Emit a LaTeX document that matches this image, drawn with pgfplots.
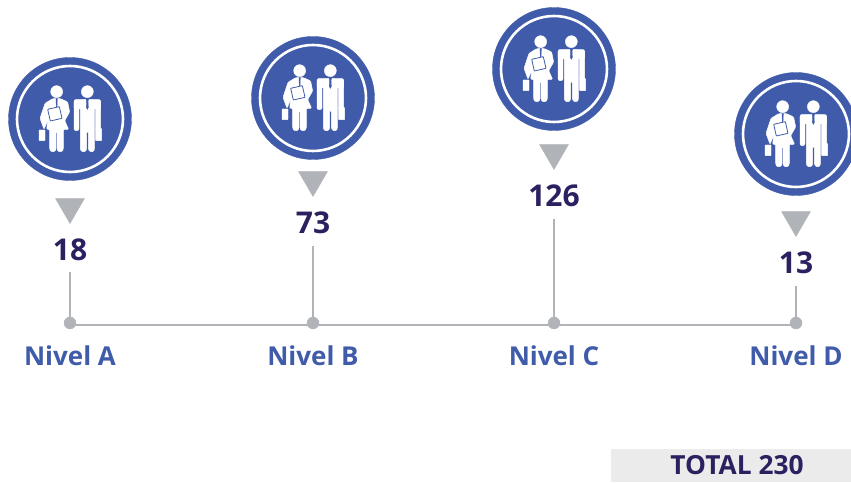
\documentclass[border=0pt]{standalone}
\usepackage{pgfplots}
\pgfplotsset{compat=1.18}
\usepackage{pgfplotstable}
\usepackage{fontspec}
\setmainfont{Open Sans}

\definecolor{azul}{HTML}{3F5BA9}
\definecolor{gris}{HTML}{B0B3B8}
\definecolor{morado}{HTML}{2B2060}
\definecolor{caja}{HTML}{ECEBEB}

% heights are in reference pixels above the baseline
\pgfplotstableread{
x     value stem icon tri num
70    18    51   204  112 73
313   73    77   225  139 100
554   126   104  254  166 127
796   13    37   189  99  60
}\niveles

\pgfplotstableread[col sep=comma]{
x,y,name
70,-33,Nivel A
313,-33,Nivel B
554,-33,Nivel C
796,-33,Nivel D
}\nombres

% person icon around the disc centre
% (everything in pt: unitless coordinates would be axis coordinates here)
\pgfdeclareplotmark{gente}{%
  \fill[azul] (0pt,0pt) circle (61.5pt);
  \draw[white,line width=2.6pt] (0pt,0pt) circle (53pt);
  % woman
  \fill[white] (-13.33pt,27.33pt) circle (6pt);
  \fill[white,rounded corners=1pt] (-17.33pt,20.33pt) -- (-9.33pt,20.33pt) -- (-2.33pt,17pt)
    -- (-0.33pt,7pt) -- (-5.33pt,-1.67pt) -- (-1.33pt,-10.33pt) -- (-6.67pt,-10.33pt)
    -- (-6.67pt,-30.33pt) -- (-8pt,-32.67pt) -- (-11.67pt,-32.67pt) -- (-13pt,-30.33pt)
    -- (-13pt,-12.67pt) -- (-14pt,-12.67pt) -- (-14pt,-30.33pt) -- (-15.33pt,-32.67pt)
    -- (-19pt,-32.67pt) -- (-20.33pt,-30.33pt) -- (-20.33pt,-10.33pt) -- (-23.33pt,-10.33pt)
    -- (-22.33pt,-1.67pt) -- (-26pt,-10.33pt) -- (-30pt,0.67pt) -- (-25pt,15.67pt) -- cycle;
  \fill[white,rounded corners=0.5pt] (-31pt,-11pt) rectangle (-25pt,-21.67pt);
  \fill[azul] (-14pt,20.33pt) -- (-12.67pt,20.33pt) -- (-13pt,12.33pt) -- (-13.67pt,12.33pt) -- cycle;
  \draw[azul,line width=0.8pt,fill=white,rounded corners=0.5pt]
    (-22.33pt,9.67pt) -- (-10.67pt,12.33pt) -- (-8pt,0.67pt) -- (-19.67pt,-2pt) -- cycle;
  % man
  \fill[white] (17.33pt,27.33pt) circle (6pt);
  \fill[white,rounded corners=1pt] (10.3pt,19pt) -- (24.4pt,19pt) -- (24.4pt,-30.33pt)
    -- (23.4pt,-32.67pt) -- (20pt,-32.67pt) -- (18.33pt,-30.33pt) -- (18.33pt,-12.67pt)
    -- (16.67pt,-12.67pt) -- (16.67pt,-30.33pt) -- (15.33pt,-32.67pt) -- (11.67pt,-32.67pt)
    -- (10.3pt,-30.33pt) -- cycle;
  \fill[white,rounded corners=2pt] (4pt,19.5pt) rectangle (30.67pt,10pt);
  \fill[white,rounded corners=2pt] (4pt,18.33pt) rectangle (9pt,-11.67pt);
  \fill[white,rounded corners=2pt] (25.6pt,18.33pt) rectangle (30.67pt,-11.67pt);
  \fill[white,rounded corners=0.5pt] (25.6pt,-9.67pt) rectangle (31.67pt,-21.67pt);
  \fill[azul] (16pt,20.33pt) -- (18.67pt,20.33pt) -- (18pt,17.67pt) -- (18.33pt,11.67pt)
    -- (17.33pt,9.67pt) -- (16.33pt,11.67pt) -- (16.67pt,17.67pt) -- cycle;
}
\pgfdeclareplotmark{flecha}{%
  \fill[gris] (-14.5pt,12.5pt) -- (14.5pt,12.5pt) -- (0pt,-12.5pt) -- cycle;
}

\begin{document}
\begin{tikzpicture}
\begin{axis}[
    name=ax,
    at={(0,0)}, anchor=south west,
    scale only axis,
    width=851pt, height=484pt,
    xmin=0, xmax=851,
    ymin=-161, ymax=323,
    hide axis,
    clip=true,
  ]
  % baseline and stems
  \addplot[gris, line width=2pt, mark=none] coordinates {(70,-2) (796,-2)};
  \addplot[gris, line width=2pt, ycomb, mark=none] table[x=x, y=stem] {\niveles};
  \addplot[only marks, mark=*, mark size=6pt, mark options={fill=gris, draw=gris}]
    table[x=x, y expr=0] {\niveles};
  % icons and arrows
  \addplot[only marks, mark=gente] table[x=x, y=icon] {\niveles};
  \addplot[only marks, mark=flecha] table[x=x, y=tri] {\niveles};
  % values
  \addplot[only marks, mark=none, point meta=explicit symbolic,
      nodes near coords, every node near coord/.append style={
        anchor=center, inner sep=0pt, text=morado,
        font=\fontsize{30}{30}\selectfont\bfseries}]
    table[x=x, y=num, meta=value] {\niveles};
  % level names
  \addplot[only marks, mark=none, point meta=explicit symbolic,
      nodes near coords, every node near coord/.append style={
        anchor=center, inner sep=0pt, text=azul,
        font=\fontsize{26}{26}\selectfont\bfseries}]
    table[x=x, y=y, meta=name, col sep=comma] {\nombres};
  % total box
  \fill[caja] (axis cs:611,-126) rectangle (axis cs:851,-159);
  \node[text=morado, font=\fontsize{26.3}{26.3}\selectfont\bfseries, inner sep=0pt]
    at (axis cs:737,-142) {TOTAL 230};
\end{axis}
\pgfresetboundingbox
\path[use as bounding box] (0,0) rectangle (851pt,484pt);
\end{tikzpicture}
\end{document}
